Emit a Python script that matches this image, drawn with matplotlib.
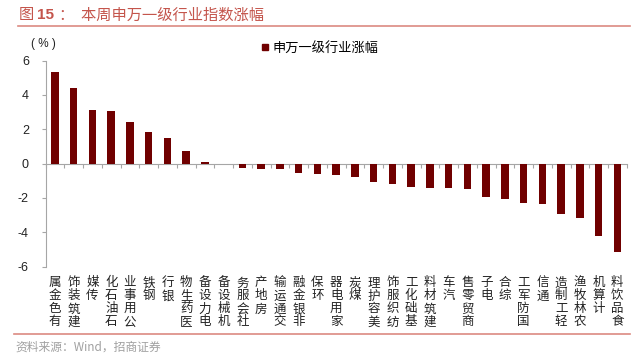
import matplotlib
matplotlib.use('Agg')
import numpy as np
from matplotlib import pyplot as plt
from matplotlib.lines import Line2D

plt.rcParams['font.family'] = ['Noto Sans CJK SC', 'DejaVu Sans']

industries = ['有色金属', '建筑装饰', '传媒', '石油石化', '公用事业', '钢铁', '银行', '医药生物',
              '电力设备', '机械设备', '社会服务', '房地产', '交通运输', '非银金融', '环保', '家用电器',
              '煤炭', '美容护理', '纺织服饰', '基础化工', '建筑材料', '汽车', '商贸零售', '电子',
              '综合', '国防军工', '通信', '轻工制造', '农林牧渔', '计算机', '食品饮料']
weekly_change = [5.33, 4.40, 3.10, 3.06, 2.44, 1.84, 1.51, 0.73,
                 0.08, -0.05, -0.27, -0.29, -0.33, -0.54, -0.58, -0.68,
                 -0.79, -1.09, -1.18, -1.37, -1.40, -1.41, -1.47, -1.94,
                 -2.05, -2.31, -2.38, -2.96, -3.15, -4.22, -5.17]
y_ticks = [-6, -4, -2, 0, 2, 4, 6]
series_name = '申万一级行业涨幅'

bar_color = '#700000'
axis_grey = '#a6a6a6'
title_red = '#c4554c'
num_font = ['Liberation Sans', 'Noto Sans CJK SC']

fig = plt.figure(figsize=(6.4, 3.53), dpi=100)
fig.patch.set_facecolor('w')
ax = fig.add_axes([0.0713, 0.2445, 0.908, 0.5841])

x = np.arange(len(industries))
ax.bar(x, weekly_change, width=0.4, color=bar_color, zorder=3)

ax.set_xlim(-0.5, len(industries) - 0.5)
ax.set_ylim(-6, 6)
ax.set_yticks(y_ticks)
ax.set_yticklabels([str(v) for v in y_ticks], fontsize=9, family=num_font)
ax.tick_params(axis='y', length=3, pad=9, color=axis_grey, labelcolor='#222222')

# x轴在0处，刻度在类别之间
ax.spines['top'].set_visible(False)
ax.spines['right'].set_visible(False)
ax.spines['bottom'].set_position(('data', 0))
ax.spines['bottom'].set_color(axis_grey)
ax.spines['left'].set_color(axis_grey)
ax.set_xticks(np.arange(-0.5, len(industries), 1.0))
ax.set_xticklabels([])
ax.tick_params(axis='x', length=3, color=axis_grey, direction='out')

# 竖排行业名称（自下而上）
for i, name in enumerate(industries):
    ax.annotate('\n'.join(name[::-1]), xy=(i, 0), xycoords=('data', 'axes fraction'),
                xytext=(0, -7), textcoords='offset points', ha='center', va='top',
                fontsize=9, linespacing=1.0, color='#222222')

# 单位
fig.text(0.049, 0.875, '( % )', fontsize=8.5, color='#222222', va='center', ha='left',
         family=num_font)

# 图例
leg_handle = Line2D([], [], marker='s', linestyle='none', markersize=5,
                    markerfacecolor=bar_color, markeredgecolor=bar_color)
fig.legend([leg_handle], [series_name], loc='center left', bbox_to_anchor=(0.395, 0.864),
           frameon=False, fontsize=9.5, handletextpad=0.2, handlelength=0.8, borderpad=0)

# 标题与分隔线
fig.text(0.03, 0.958, '图 ', fontsize=11, color=title_red, va='center', ha='left')
fig.text(0.058, 0.958, '15', fontsize=11, color=title_red, va='center', ha='left',
         fontweight='bold', family=num_font)
fig.text(0.092, 0.958, '：  本周申万一级行业指数涨幅', fontsize=11, color=title_red,
         va='center', ha='left')
fig.add_artist(Line2D([0.028, 0.985], [0.927, 0.927], color='#dc8a82', lw=1.2))
fig.add_artist(Line2D([0.022, 0.985], [0.054, 0.054], color='#dc8a82', lw=1.2))
fig.text(0.024, 0.018, '资料来源：Wind，招商证券', fontsize=8.5, color='#a0a0a0',
         va='center', ha='left')

plt.savefig('out.png', dpi=100)
plt.close('all')
